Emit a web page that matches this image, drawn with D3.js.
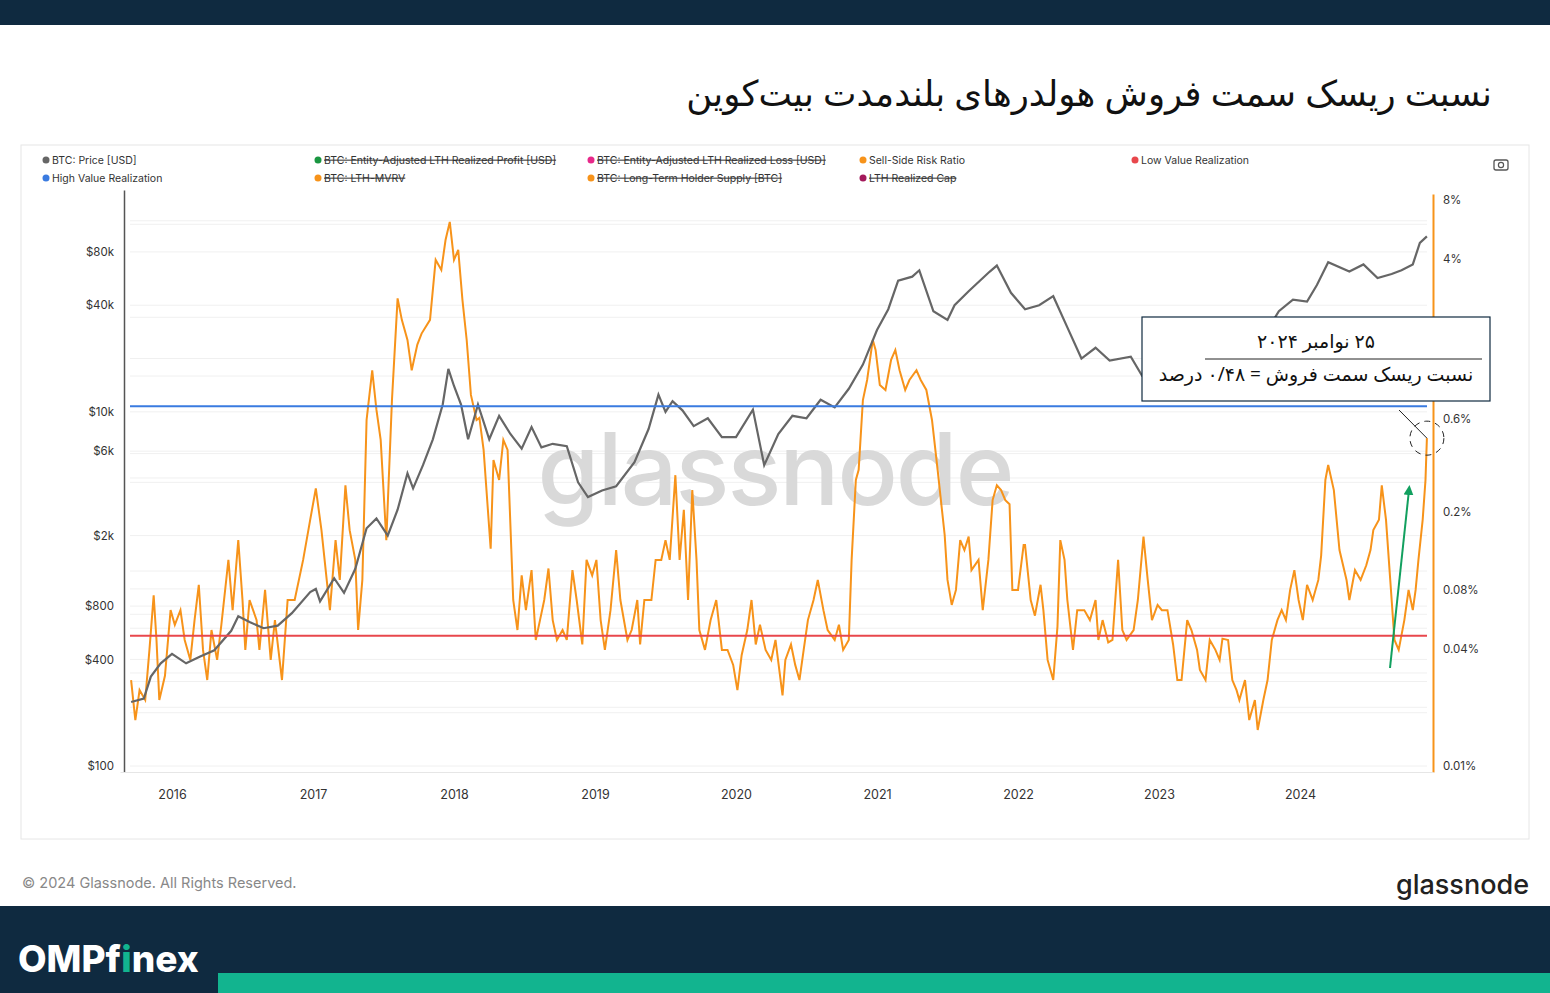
<!DOCTYPE html>
<html><head><meta charset="utf-8">
<script src="https://cdn.jsdelivr.net/npm/d3@7"></script>
<style>body{margin:0;background:#fff}svg{display:block}</style>
</head><body>
<svg id="c" width="1550" height="993"></svg>
<script>
// BTC price [decimal year, USD]
const priceYears = [2015.71,2015.80,2015.85,2015.92,2016.0,2016.1,2016.2,2016.3,2016.42,2016.47,2016.55,2016.65,2016.75,2016.85,2016.98,2017.02,2017.05,2017.15,2017.22,2017.3,2017.38,2017.45,2017.53,2017.6,2017.67,2017.71,2017.78,2017.85,2017.92,2017.96,2018.0,2018.05,2018.1,2018.17,2018.25,2018.32,2018.4,2018.48,2018.55,2018.62,2018.7,2018.8,2018.88,2018.95,2019.05,2019.15,2019.28,2019.38,2019.45,2019.5,2019.55,2019.62,2019.7,2019.8,2019.9,2020.0,2020.12,2020.2,2020.3,2020.4,2020.5,2020.6,2020.7,2020.8,2020.9,2021.0,2021.08,2021.15,2021.25,2021.3,2021.4,2021.5,2021.55,2021.65,2021.8,2021.85,2021.95,2022.05,2022.15,2022.25,2022.35,2022.45,2022.55,2022.65,2022.8,2022.88,2023.0,2023.1,2023.2,2023.3,2023.45,2023.55,2023.65,2023.75,2023.85,2023.95,2024.05,2024.12,2024.2,2024.35,2024.45,2024.55,2024.65,2024.72,2024.8,2024.85,2024.9];
const priceUsd = [230,240,320,380,430,380,415,450,580,700,650,600,620,730,960,1000,850,1150,950,1300,2200,2500,2000,2800,4500,3700,5000,7000,11000,17500,14000,11000,7000,11000,7000,9500,7500,6200,8200,6300,6600,6400,4000,3300,3600,3800,5200,8000,12500,10000,11500,10200,8300,9200,7200,7200,10300,5000,7500,9500,9200,11700,10600,13500,18500,29000,38000,55000,58000,63000,37000,33000,40000,48000,62000,67000,47000,38000,40000,45000,30000,20000,23000,19500,20500,16000,16800,23000,28000,29000,26000,30000,26000,27500,37000,43000,42000,52000,70000,62000,68000,57000,60000,63000,68000,90000,98000];

// Sell-Side Risk Ratio [decimal year, percent]
const ssrYears = [2015.71,2015.74,2015.77,2015.81,2015.84,2015.87,2015.89,2015.91,2015.95,2015.99,2016.02,2016.06,2016.09,2016.13,2016.16,2016.19,2016.22,2016.25,2016.28,2016.32,2016.35,2016.40,2016.43,2016.47,2016.50,2016.52,2016.55,2016.60,2016.62,2016.66,2016.70,2016.73,2016.78,2016.82,2016.87,2016.93,2016.98,2017.02,2017.06,2017.12,2017.16,2017.19,2017.23,2017.26,2017.30,2017.32,2017.35,2017.38,2017.42,2017.45,2017.48,2017.52,2017.56,2017.60,2017.63,2017.67,2017.70,2017.74,2017.77,2017.83,2017.87,2017.91,2017.94,2017.97,2018.00,2018.03,2018.06,2018.09,2018.12,2018.16,2018.18,2018.21,2018.26,2018.28,2018.32,2018.35,2018.38,2018.42,2018.45,2018.48,2018.51,2018.55,2018.58,2018.61,2018.64,2018.67,2018.70,2018.73,2018.77,2018.80,2018.84,2018.87,2018.91,2018.94,2018.98,2019.01,2019.04,2019.07,2019.11,2019.15,2019.18,2019.23,2019.26,2019.30,2019.32,2019.35,2019.40,2019.43,2019.47,2019.50,2019.53,2019.57,2019.60,2019.63,2019.66,2019.69,2019.72,2019.74,2019.78,2019.82,2019.86,2019.90,2019.94,2019.98,2020.01,2020.04,2020.08,2020.11,2020.14,2020.17,2020.21,2020.25,2020.28,2020.33,2020.35,2020.39,2020.42,2020.45,2020.48,2020.51,2020.55,2020.58,2020.62,2020.65,2020.70,2020.73,2020.76,2020.80,2020.82,2020.85,2020.87,2020.90,2020.93,2020.97,2020.99,2021.02,2021.06,2021.10,2021.13,2021.16,2021.20,2021.23,2021.28,2021.31,2021.35,2021.39,2021.43,2021.48,2021.50,2021.53,2021.56,2021.59,2021.62,2021.65,2021.67,2021.72,2021.75,2021.79,2021.82,2021.85,2021.88,2021.91,2021.94,2021.96,2022.00,2022.04,2022.05,2022.09,2022.12,2022.16,2022.18,2022.21,2022.25,2022.28,2022.30,2022.33,2022.35,2022.39,2022.42,2022.47,2022.51,2022.55,2022.57,2022.60,2022.64,2022.67,2022.71,2022.74,2022.77,2022.82,2022.85,2022.89,2022.92,2022.95,2022.99,2023.02,2023.06,2023.10,2023.13,2023.16,2023.20,2023.23,2023.27,2023.29,2023.33,2023.36,2023.40,2023.43,2023.45,2023.49,2023.52,2023.55,2023.57,2023.61,2023.64,2023.68,2023.70,2023.74,2023.77,2023.80,2023.84,2023.87,2023.90,2023.93,2023.96,2023.99,2024.02,2024.05,2024.09,2024.13,2024.15,2024.18,2024.20,2024.24,2024.28,2024.33,2024.35,2024.39,2024.43,2024.47,2024.50,2024.52,2024.56,2024.58,2024.61,2024.64,2024.67,2024.70,2024.74,2024.77,2024.80,2024.82,2024.84,2024.87,2024.89,2024.90];
const ssrPct = [0.0276,0.0172,0.0245,0.0218,0.0394,0.075,0.0443,0.0218,0.029,0.063,0.053,0.063,0.0443,0.035,0.056,0.085,0.0394,0.0276,0.0498,0.035,0.053,0.114,0.063,0.144,0.071,0.0394,0.071,0.056,0.0394,0.080,0.035,0.056,0.0276,0.071,0.071,0.114,0.183,0.265,0.162,0.063,0.144,0.090,0.275,0.162,0.114,0.0498,0.090,0.595,1.07,0.67,0.47,0.144,0.753,2.5,1.94,1.53,1.07,1.45,1.65,1.94,3.94,3.5,4.98,6.17,3.94,4.43,2.45,1.53,0.80,0.595,0.61,0.418,0.13,0.371,0.293,0.47,0.418,0.071,0.0498,0.095,0.063,0.101,0.0443,0.056,0.071,0.103,0.056,0.0443,0.0498,0.0443,0.101,0.071,0.042,0.114,0.095,0.114,0.056,0.0394,0.063,0.128,0.071,0.0443,0.0498,0.071,0.042,0.071,0.071,0.114,0.114,0.144,0.114,0.31,0.114,0.206,0.071,0.26,0.114,0.0498,0.0394,0.056,0.071,0.0394,0.0394,0.033,0.0245,0.037,0.0498,0.071,0.042,0.053,0.0394,0.035,0.0443,0.023,0.035,0.042,0.033,0.0276,0.0394,0.056,0.071,0.090,0.063,0.0498,0.0443,0.053,0.0394,0.0443,0.114,0.293,0.33,0.753,0.954,1.53,1.36,0.90,0.848,1.21,1.36,1.07,0.848,0.954,1.07,0.954,0.848,0.595,0.33,0.153,0.090,0.067,0.080,0.144,0.128,0.15,0.101,0.114,0.063,0.114,0.231,0.275,0.26,0.231,0.22,0.080,0.080,0.136,0.136,0.071,0.059,0.085,0.063,0.035,0.0276,0.052,0.144,0.114,0.071,0.0394,0.063,0.063,0.056,0.071,0.0443,0.056,0.043,0.0443,0.114,0.0498,0.0443,0.0498,0.071,0.15,0.090,0.056,0.067,0.063,0.063,0.042,0.0276,0.0276,0.056,0.0498,0.0394,0.0311,0.0276,0.0443,0.0394,0.035,0.045,0.0443,0.0276,0.0245,0.0218,0.0276,0.0172,0.0218,0.0153,0.0218,0.0276,0.0443,0.056,0.063,0.056,0.080,0.101,0.071,0.056,0.085,0.071,0.090,0.12,0.293,0.35,0.26,0.128,0.090,0.071,0.101,0.090,0.107,0.128,0.162,0.183,0.275,0.183,0.090,0.0443,0.0394,0.056,0.080,0.063,0.080,0.114,0.183,0.293,0.48];

const highValue = 0.70;   // percent
const lowValue = 0.0465;  // percent
const yearTicks = [2016,2017,2018,2019,2020,2021,2022,2023,2024];
const priceTicks = [100,400,800,2000,6000,10000,40000,80000];
const priceTickLabels = ["$100","$400","$800","$2k","$6k","$10k","$40k","$80k"];
const ratioTicks = [0.01,0.04,0.08,0.2,0.6,4,8];
const ratioTickLabels = ["0.01%","0.04%","0.08%","0.2%","0.6%","4%","8%"];
const legendRow1 = [["BTC: Price [USD]","#666",false],["BTC: Entity-Adjusted LTH Realized Profit [USD]","#1a9641",true],["BTC: Entity-Adjusted LTH Realized Loss [USD]","#e7298a",true],["Sell-Side Risk Ratio","#f7931a",false],["Low Value Realization","#e8474c",false]];
const legendRow2 = [["High Value Realization","#3a7be0",false],["BTC: LTH-MVRV","#f7931a",true],["BTC: Long-Term Holder Supply [BTC]","#f7931a",true],["LTH Realized Cap","#a3195b",true]];

const svg = d3.select("#c");
const font = "Inter, 'Noto Sans', sans-serif";
const fa = "'Noto Sans', 'DejaVu Sans', sans-serif";

// bands
svg.append("rect").attr("width",1550).attr("height",25).attr("fill","#0f2a40");
svg.append("rect").attr("y",906).attr("width",1550).attr("height",87).attr("fill","#0f2a40");
svg.append("rect").attr("x",218).attr("y",973).attr("width",1332).attr("height",20).attr("fill","#12b48f");
const logo = svg.append("text").attr("x",18).attr("y",972).attr("font-family",font).attr("font-weight",800).attr("font-size",37).attr("fill","#fff");
logo.append("tspan").text("OMPf");
logo.append("tspan").attr("fill","#12b48f").text("i");
logo.append("tspan").text("nex");

svg.append("text").attr("x",1492).attr("y",106).attr("text-anchor","start").attr("direction","rtl")
  .attr("font-family",fa).attr("font-size",35.5).attr("fill","#111").text("نسبت ریسک سمت فروش هولدرهای بلندمدت بیت‌کوین");

// card
svg.append("rect").attr("x",21).attr("y",145).attr("width",1508).attr("height",694).attr("fill","#fff").attr("stroke","#e6e6e6");
svg.append("text").attr("x",22).attr("y",888).attr("font-family",font).attr("font-size",14.5).attr("fill","#888").text("© 2024 Glassnode. All Rights Reserved.");
svg.append("text").attr("x",1529).attr("y",894).attr("text-anchor","end").attr("font-family",font).attr("font-weight",500).attr("font-size",27).attr("fill","#222").text("glassnode");

// legend
function legend(row, y, xs) {
  row.forEach((d,i) => {
    svg.append("circle").attr("cx",xs[i]).attr("cy",y).attr("r",3.5).attr("fill",d[1]);
    const t = svg.append("text").attr("x",xs[i]+6).attr("y",y+3.5).attr("font-family",font).attr("font-size",10.5).attr("fill","#333").text(d[0]);
    if (d[2]) t.attr("text-decoration","line-through");
  });
}
legend(legendRow1,160,[46,318,591,863,1135]);
legend(legendRow2,178,[46,318,591,863]);
// camera icon
svg.append("rect").attr("x",1494).attr("y",160).attr("width",14).attr("height",10).attr("rx",2).attr("fill","none").attr("stroke","#555").attr("stroke-width",1.3);
svg.append("circle").attr("cx",1501).attr("cy",165).attr("r",2.6).attr("fill","none").attr("stroke","#555").attr("stroke-width",1.2);

// scales
const x = d3.scaleLinear().domain([2016 - 52/141, 2016 + 1261/141]).range([120, 1433]);
const yP = d3.scaleLog().domain([92.5, 179000]).range([772, 190]);
const yR = d3.scaleLog().domain([0.01 * Math.pow(10,-6/195), 0.01 * Math.pow(10,572/195)]).range([772, 194]);

// grid
const grid = svg.append("g").attr("stroke","#f0f0f0");
[100,200,300,400,600,800,1000,2000,4000,6000,10000,20000,40000,80000,120000].forEach(v => {
  grid.append("line").attr("x1",130).attr("x2",1427).attr("y1",yP(v)).attr("y2",yP(v));
});
[0.02,0.03,0.06,0.1,0.3,0.4,1,2,6].forEach(v => {
  grid.append("line").attr("x1",130).attr("x2",1427).attr("y1",yR(v)).attr("y2",yR(v));
});

// watermark
svg.append("text").attr("x",775).attr("y",505).attr("text-anchor","middle").attr("font-family",font)
  .attr("font-weight",500).attr("font-size",100).attr("fill","#d9d9d9").attr("letter-spacing",-2).text("glassnode");

// axes
const gl = svg.append("g").attr("transform","translate(124,0)").call(d3.axisLeft(yP).tickValues(priceTicks).tickFormat((d,i)=>priceTickLabels[i]).tickSize(0).tickPadding(10));
gl.select(".domain").attr("stroke","#555").attr("stroke-width",1.5);
gl.selectAll("text").attr("font-family",font).attr("font-size",11.5).attr("fill","#333");
const gr = svg.append("g").attr("transform","translate(1433,0)").call(d3.axisRight(yR).tickValues(ratioTicks).tickFormat((d,i)=>ratioTickLabels[i]).tickSize(0).tickPadding(10));
gr.select(".domain").attr("stroke","#f7931a").attr("stroke-width",2);
gr.selectAll("text").attr("font-family",font).attr("font-size",11.5).attr("fill","#333");
const gx = svg.append("g").attr("transform","translate(0,772)").call(d3.axisBottom(x).tickValues(yearTicks).tickFormat(d3.format("d")).tickSize(0).tickPadding(18));
gx.select(".domain").attr("stroke","#e6e6e6");
gx.selectAll("text").attr("font-family",font).attr("font-size",12.5).attr("fill","#333");

// series
const ssr = ssrYears.map((t,i)=>[t, ssrPct[i]]);
const price = priceYears.map((t,i)=>[t, priceUsd[i]]);
svg.append("path").datum(ssr).attr("fill","none").attr("stroke","#f7931a").attr("stroke-width",2)
  .attr("d", d3.line().x(d=>x(d[0])).y(d=>yR(d[1])));
svg.append("path").datum(price).attr("fill","none").attr("stroke","#666").attr("stroke-width",2.2)
  .attr("d", d3.line().x(d=>x(d[0])).y(d=>yP(d[1])));
svg.append("line").attr("x1",130).attr("x2",1427).attr("y1",yR(highValue)).attr("y2",yR(highValue)).attr("stroke","#3a7be0").attr("stroke-width",2);
svg.append("line").attr("x1",130).attr("x2",1427).attr("y1",yR(lowValue)).attr("y2",yR(lowValue)).attr("stroke","#e8474c").attr("stroke-width",2);

// annotation
const last = ssr[ssr.length-1];
const ax = x(last[0]), ay = yR(last[1]);
svg.append("circle").attr("cx",ax).attr("cy",ay).attr("r",17).attr("fill","none").attr("stroke","#222").attr("stroke-dasharray","6,5");
svg.append("line").attr("x1",1399).attr("y1",410).attr("x2",ax).attr("y2",ay).attr("stroke","#222");
svg.append("rect").attr("x",1142).attr("y",317).attr("width",348).attr("height",84).attr("fill","#fff").attr("stroke","#0f2a40").attr("stroke-width",1.2);
svg.append("line").attr("x1",1205).attr("x2",1482).attr("y1",359).attr("y2",359).attr("stroke","#222");
svg.append("text").attr("x",1316).attr("y",348).attr("text-anchor","middle").attr("direction","rtl").attr("font-family",fa).attr("font-size",19).attr("fill","#111").text("۲۵ نوامبر ۲۰۲۴");
svg.append("text").attr("x",1316).attr("y",381).attr("text-anchor","middle").attr("direction","rtl").attr("font-family",fa).attr("font-size",19).attr("fill","#111").text("نسبت ریسک سمت فروش = ۰/۴۸ درصد");
// green arrow
svg.append("defs").append("marker").attr("id","ah").attr("viewBox","0 0 10 10").attr("refX",5).attr("refY",5)
  .attr("markerWidth",5).attr("markerHeight",5).attr("orient","auto").append("path").attr("d","M0,0L10,5L0,10z").attr("fill","#12a05f");
svg.append("line").attr("x1",1390).attr("y1",668).attr("x2",1409).attr("y2",490).attr("stroke","#12a05f").attr("stroke-width",2).attr("marker-end","url(#ah)");
</script>
</body></html>
